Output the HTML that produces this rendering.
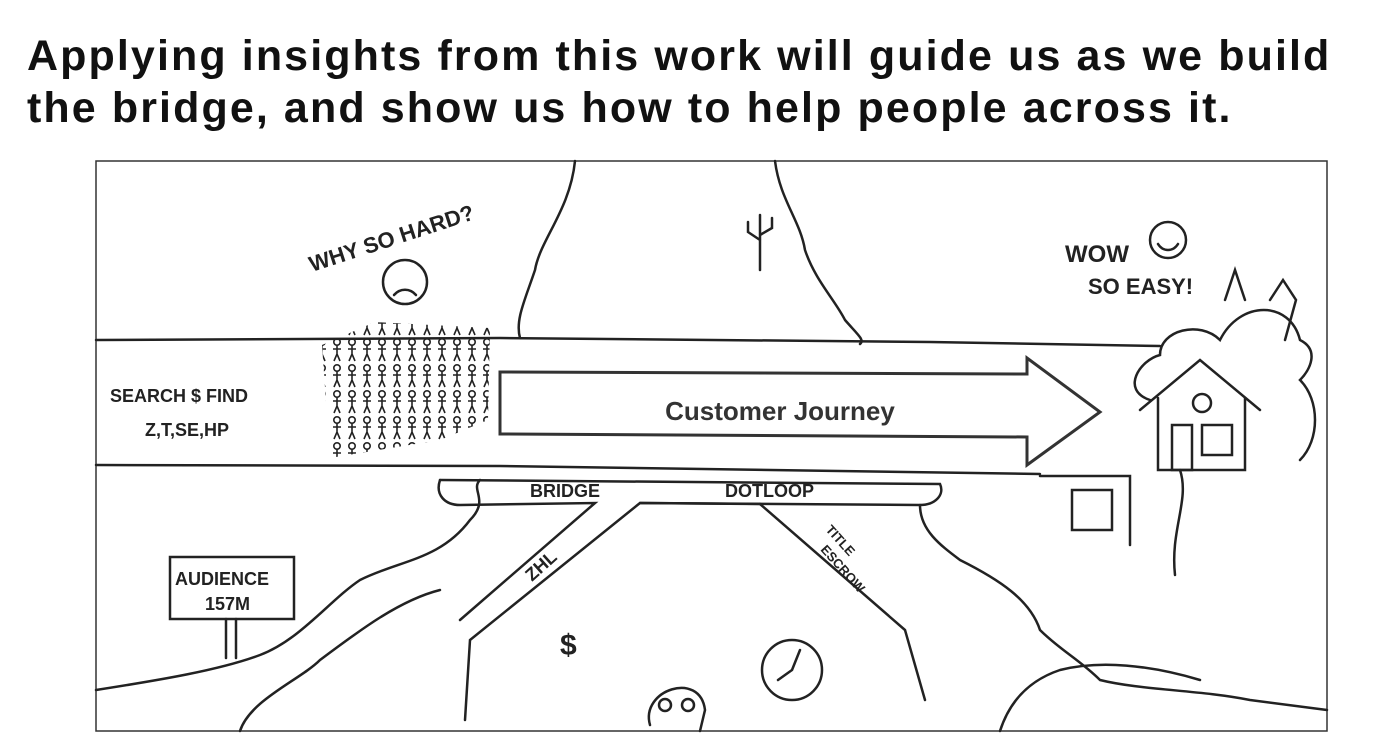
<!DOCTYPE html>
<html><head><meta charset="utf-8"><style>
html,body{margin:0;padding:0;background:#fff;width:1379px;height:747px;overflow:hidden}
.t{position:absolute;left:27px;font-family:"Liberation Sans",sans-serif;font-size:43px;font-weight:bold;color:#111;line-height:52px;letter-spacing:2.1px;white-space:nowrap}
svg{position:absolute;left:0;top:0}
.h{font-family:"Liberation Sans",sans-serif;font-weight:bold;fill:#222}
</style></head><body>
<div class="t" style="top:30px">Applying insights from this work will guide us as we build<br>the bridge, and show us how to help people across it.</div>
<svg width="1379" height="747" viewBox="0 0 1379 747">
<defs>
<pattern id="crowd" x="0" y="0" width="15" height="26" patternUnits="userSpaceOnUse">
<circle cx="7" cy="4" r="3.2" fill="none" stroke="#222" stroke-width="1.6"/>
<path d="M7 7 L7 16 M3 11 L11 11 M7 16 L4 23 M7 16 L10 23" stroke="#222" stroke-width="1.6" fill="none"/>
</pattern>
</defs>
<rect x="96" y="161" width="1231" height="570" fill="#fff" stroke="#333" stroke-width="1.5"/>
<g fill="none" stroke="#222" stroke-width="2.5" stroke-linecap="round">
<path d="M96 340 L500 338 L930 342 L1160 346"/>
<path d="M96 465 L500 466 L1040 474"/>
<path d="M575 161 C570 210 540 240 535 270 C525 300 515 320 520 338"/>
<path d="M775 161 C780 200 800 220 805 250 C815 280 835 300 845 320 C858 335 865 340 860 344"/>
<path d="M440 480 L940 484 C945 495 935 505 920 505 L640 503 L470 640 L465 720"/>
<path d="M440 480 C435 495 445 505 460 505 L595 503 L460 620"/>
<path d="M760 504 L905 630 L925 700"/>
<path d="M640 503 L760 504"/>
<path d="M96 690 C160 680 220 670 260 655 C300 640 330 600 360 580 C400 560 440 560 470 520 C490 500 470 490 480 480"/>
<path d="M240 731 C250 700 300 680 320 660 C360 630 400 600 440 590"/>
<path d="M920 505 C920 530 940 545 960 560 C1000 580 1030 600 1040 630 C1060 650 1080 660 1100 680 C1140 690 1200 690 1250 700 L1327 710"/>
<path d="M1000 731 C1010 700 1030 680 1060 670 C1100 660 1150 665 1200 680"/>
<rect x="170" y="557" width="124" height="62"/>
<path d="M226 619 L226 658 M236 619 L236 658"/>
<path d="M1140 410 L1200 360 L1260 410 M1158 398 L1158 470 L1245 470 L1245 398"/>
<rect x="1172" y="425" width="20" height="45"/>
<rect x="1202" y="425" width="30" height="30"/>
<circle cx="1202" cy="403" r="9"/>
<path d="M1150 400 C1120 390 1140 360 1160 355 C1160 330 1200 320 1220 340 C1240 300 1290 300 1300 340 C1320 350 1310 370 1300 380 C1320 400 1320 440 1300 460"/>
<path d="M1225 300 L1235 270 L1245 300 M1270 300 L1283 280 L1296 300 L1285 340"/>
<path d="M1040 476 L1130 476 L1130 545"/>
<path d="M1180 470 C1190 500 1170 530 1175 575"/>
<rect x="1072" y="490" width="40" height="40"/>
<path d="M760 270 L760 215 M760 240 L748 232 L748 222 M760 235 L772 228 L772 218"/>
<circle cx="405" cy="282" r="22"/>
<path d="M394 295 C400 288 410 288 416 295"/>
<circle cx="1168" cy="240" r="18"/>
<path d="M1158 244 C1163 252 1173 252 1178 244"/>
<circle cx="792" cy="670" r="30"/>
<path d="M792 670 L800 650 M792 670 L778 680"/>
<path d="M650 725 C640 690 700 670 705 710 L700 731"/>
<circle cx="665" cy="705" r="6"/><circle cx="688" cy="705" r="6"/>
</g>
<path d="M322 345 L375 322 L490 328 L488 420 L440 440 L330 458 Z" fill="url(#crowd)"/>
<path d="M500 372 L1027 374 L1027 358 L1100 412 L1027 465 L1027 437 L500 434 Z" fill="#fff" stroke="#333" stroke-width="3"/>
<text x="780" y="420" text-anchor="middle" class="h" style="font-size:26px;fill:#333">Customer Journey</text>
<g class="h" style="font-size:18px">
<text x="110" y="402">SEARCH $ FIND</text>
<text x="145" y="436">Z,T,SE,HP</text>
<text x="175" y="585">AUDIENCE</text>
<text x="205" y="610">157M</text>
<text x="530" y="497">BRIDGE</text>
<text x="725" y="497">DOTLOOP</text>
<text x="0" y="0" transform="translate(532 582) rotate(-42)">ZHL</text>
<text x="0" y="0" transform="translate(825 530) rotate(48)" style="font-size:13px">TITLE</text>
<text x="0" y="0" transform="translate(820 550) rotate(48)" style="font-size:13px">ESCROW</text>
<text x="0" y="0" transform="translate(312 272) rotate(-18)" style="font-size:22px">WHY SO HARD?</text>
<text x="1065" y="262" style="font-size:24px">WOW</text>
<text x="1088" y="294" style="font-size:22px">SO EASY!</text>
<text x="560" y="655" style="font-size:30px">$</text>
</g>
</svg>
</body></html>
